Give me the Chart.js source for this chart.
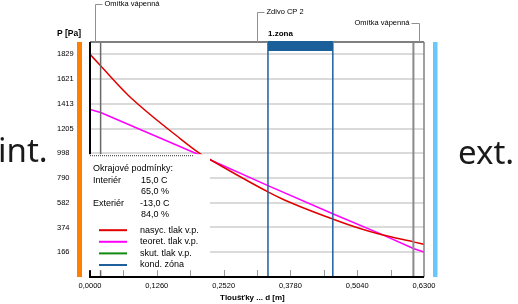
<!DOCTYPE html>
<html><head><meta charset="utf-8">
<script src="https://cdn.jsdelivr.net/npm/chart.js@4/dist/chart.umd.min.js"></script>
<style>html,body{margin:0;padding:0;background:#fff}#wrap{width:518px;height:304px}</style>
</head><body><div id="wrap"><canvas id="c" width="518" height="304"></canvas></div>
<script>
// ---- data ----
const satX  = [0, 0.02, 0.072, 0.17, 0.2075, 0.2263, 0.3357, 0.3678, 0.4589, 0.5093, 0.547, 0.61, 0.63];
const satP  = [1829, 1732, 1485, 1121, 995, 945, 673, 603, 443, 365, 317, 253, 233];
const theoX = [0, 0.02, 0.198, 0.3357, 0.4589, 0.547, 0.61, 0.63];
const theoP = [1365, 1340, 1000, 725, 487, 322, 198, 168];
const xTicks = [0, 0.126, 0.252, 0.378, 0.504, 0.63];
const xTickLabels = ['0,0000', '0,1260', '0,2520', '0,3780', '0,5040', '0,6300'];
const xMinorTicks = [0.063, 0.126, 0.189, 0.252, 0.315, 0.378, 0.441, 0.504, 0.567];
const yTicks = [166, 374, 582, 790, 998, 1205, 1413, 1621, 1829];
const yTickLabels = ['166', '374', '582', '790', '998', '1205', '1413', '1621', '1829'];
const layerBounds = [0.02, 0.61];
const zoneBounds = [0.3357, 0.458];
const layerNames = ['Omítka vápenná', 'Zdivo CP 2', 'Omítka vápenná'];
const layerCenters = [0.01, 0.315, 0.62];
const zoneLabel = '1.zona';
const condTitle = 'Okrajové podmínky:';
const condRows = [['Interiér', '15,0 C'], ['', '65,0 %'], ['Exteriér', '-13,0 C'], ['', '84,0 %']];
const legendLabels = ['nasyc. tlak v.p.', 'teoret. tlak v.p.', 'skut. tlak v.p.', 'kond. zóna'];
const legendColors = ['#e00000', '#ff00ff', '#108a10', '#1f5f9c'];

const F = '"Liberation Sans", Arial, sans-serif';

const deco = {
  id: 'deco',
  afterDatasetsDraw(chart) {
    const { ctx, chartArea: a, scales: { x, y } } = chart;
    ctx.save();
    // layer boundaries
    ctx.strokeStyle = '#6a6a6a'; ctx.lineWidth = 1.5;
    ctx.beginPath(); ctx.moveTo(x.getPixelForValue(layerBounds[0]), a.top); ctx.lineTo(x.getPixelForValue(layerBounds[0]), a.bottom); ctx.stroke();
    ctx.strokeStyle = '#8a8a8a'; ctx.lineWidth = 2;
    ctx.beginPath(); ctx.moveTo(x.getPixelForValue(layerBounds[1]), a.top); ctx.lineTo(x.getPixelForValue(layerBounds[1]), a.bottom); ctx.stroke();
    // zone lines
    ctx.strokeStyle = '#1f5f9c'; ctx.lineWidth = 1.5;
    zoneBounds.forEach(v => { const px = x.getPixelForValue(v); ctx.beginPath(); ctx.moveTo(px, a.top); ctx.lineTo(px, a.bottom); ctx.stroke(); });
    // minor ticks
    ctx.strokeStyle = '#9a9a9a'; ctx.lineWidth = 1;
    xMinorTicks.forEach(v => { const px = Math.round(x.getPixelForValue(v)) + 0.5; ctx.beginPath(); ctx.moveTo(px, a.bottom - 7); ctx.lineTo(px, a.bottom); ctx.stroke(); });
    // borders
    ctx.strokeStyle = '#808080'; ctx.lineWidth = 2;
    ctx.beginPath(); ctx.moveTo(a.left, a.top); ctx.lineTo(a.right, a.top); ctx.stroke();
    ctx.lineWidth = 1.5;
    ctx.beginPath(); ctx.moveTo(a.right, a.top); ctx.lineTo(a.right, a.bottom); ctx.stroke();
    ctx.strokeStyle = '#000'; ctx.lineWidth = 2;
    ctx.beginPath(); ctx.moveTo(a.left, a.top); ctx.lineTo(a.left, a.bottom); ctx.stroke();
    // zone bar
    const z0 = x.getPixelForValue(zoneBounds[0]), z1 = x.getPixelForValue(zoneBounds[1]);
    ctx.fillStyle = '#1a5f9a'; ctx.fillRect(z0, a.top - 1, z1 - z0, 10);
    // legend box
    const bTop = y.getPixelForValue(998) + 1;
    ctx.fillStyle = '#fff'; ctx.fillRect(a.left - 2, bTop, 122, 116);
    ctx.strokeStyle = '#333'; ctx.lineWidth = 1; ctx.setLineDash([1, 1]);
    ctx.beginPath(); ctx.moveTo(a.left, bTop + 1.5); ctx.lineTo(a.left + 103, bTop + 1.5); ctx.stroke();
    ctx.setLineDash([]);
    // bottom axis line
    ctx.strokeStyle = '#000'; ctx.lineWidth = 2;
    ctx.beginPath(); ctx.moveTo(a.left - 1, a.bottom); ctx.lineTo(a.right, a.bottom); ctx.stroke();
    // box text
    ctx.fillStyle = '#000'; ctx.font = '9px ' + F; ctx.textBaseline = 'middle'; ctx.textAlign = 'left';
    ctx.fillText(condTitle, a.left + 3, bTop + 14);
    condRows.forEach((r, i) => {
      const ty = bTop + 26 + i * 11.5;
      if (r[0]) ctx.fillText(r[0], a.left + 3, ty);
      ctx.fillText(r[1], a.left + (r[1][0] === '-' ? 50 : 51), ty);
    });
    legendLabels.forEach((t, i) => {
      const ly = bTop + 76 + i * 11.6;
      ctx.strokeStyle = legendColors[i]; ctx.lineWidth = 2;
      ctx.beginPath(); ctx.moveTo(a.left + 9, ly); ctx.lineTo(a.left + 37, ly); ctx.stroke();
      ctx.fillText(t, a.left + 50, ly);
    });
    ctx.restore();
  },
  afterDraw(chart) {
    const { ctx, chartArea: a, scales: { x } } = chart;
    ctx.save();
    // side bars
    ctx.fillStyle = '#ff8000'; ctx.fillRect(a.left - 13, a.top, 5, a.bottom - a.top);
    ctx.fillStyle = '#66c8ff'; ctx.fillRect(a.right + 9, a.top, 4.5, a.bottom - a.top);
    ctx.fillStyle = '#1a1a1a'; ctx.font = '33px "Noto Sans", sans-serif'; ctx.textBaseline = 'alphabetic';
    ctx.textAlign = 'left'; ctx.fillText('int.', -2, 162);
    ctx.fillText('ext.', 458, 164);
    // axis titles
    ctx.fillStyle = '#000'; ctx.font = 'bold 8.5px ' + F; ctx.textBaseline = 'middle';
    ctx.fillText('P [Pa]', 57, 34);
    ctx.font = 'bold 8px ' + F;
    ctx.fillText('Tloušťky ... d [m]', 220, 298);
    ctx.fillText(zoneLabel, x.getPixelForValue(zoneBounds[0]), 34);
    // layer labels with brackets
    const ly = [4, 12, 23];
    ctx.font = '7.5px ' + F; ctx.strokeStyle = '#909090'; ctx.lineWidth = 1;
    layerNames.forEach((n, i) => {
      const px = Math.round(x.getPixelForValue(layerCenters[i])) + 0.5;
      const yy = ly[i] + 0.5;
      ctx.beginPath();
      if (i < 2) {
        ctx.moveTo(px, a.top); ctx.lineTo(px, yy); ctx.lineTo(px + 7, yy); ctx.stroke();
        ctx.textAlign = 'left'; ctx.fillText(n, px + 9, ly[i]);
      } else {
        ctx.moveTo(px, a.top); ctx.lineTo(px, yy); ctx.lineTo(px - 8, yy); ctx.stroke();
        ctx.textAlign = 'right'; ctx.fillText(n, px - 10, ly[i]);
      }
    });
    ctx.restore();
  }
};

new Chart(document.getElementById('c'), {
  type: 'scatter',
  data: {
    datasets: [
      { label: legendLabels[0], data: satX.map((v, i) => ({ x: v, y: satP[i] })), showLine: true, borderColor: '#e00000', borderWidth: 1.5, pointRadius: 0, cubicInterpolationMode: 'monotone' },
      { label: legendLabels[1], data: theoX.map((v, i) => ({ x: v, y: theoP[i] })), showLine: true, borderColor: '#ff00ff', borderWidth: 1.5, pointRadius: 0, tension: 0 }
    ]
  },
  options: {
    responsive: false, animation: false, devicePixelRatio: 1,
    layout: { padding: { left: 57, right: 94, top: 42, bottom: 0 } },
    plugins: { legend: { display: false }, tooltip: { enabled: false } },
    scales: {
      x: {
        type: 'linear', min: 0, max: 0.63,
        afterBuildTicks: s => { s.ticks = xTicks.map(v => ({ value: v })); },
        afterFit: s => { s.height = 27; s.paddingLeft = 0; s.paddingRight = 0; },
        ticks: { autoSkip: false, maxRotation: 0, padding: 4, color: '#000', font: { family: F, size: 7.5 }, callback: (v, i) => xTickLabels[i] },
        grid: { display: false, drawTicks: false, tickLength: 0 }, border: { display: false }
      },
      y: {
        type: 'linear', min: -42, max: 1932,
        afterBuildTicks: s => { s.ticks = yTicks.map(v => ({ value: v })); },
        afterFit: s => { s.width = 33; s.paddingTop = 0; s.paddingBottom = 0; },
        ticks: { autoSkip: false, crossAlign: 'far', color: '#000', font: { family: F, size: 7.5 }, callback: (v, i) => yTickLabels[i] },
        grid: { color: '#dadada', lineWidth: 2, drawTicks: false }, border: { display: false }
      }
    }
  },
  plugins: [deco]
});
</script>
</body></html>
